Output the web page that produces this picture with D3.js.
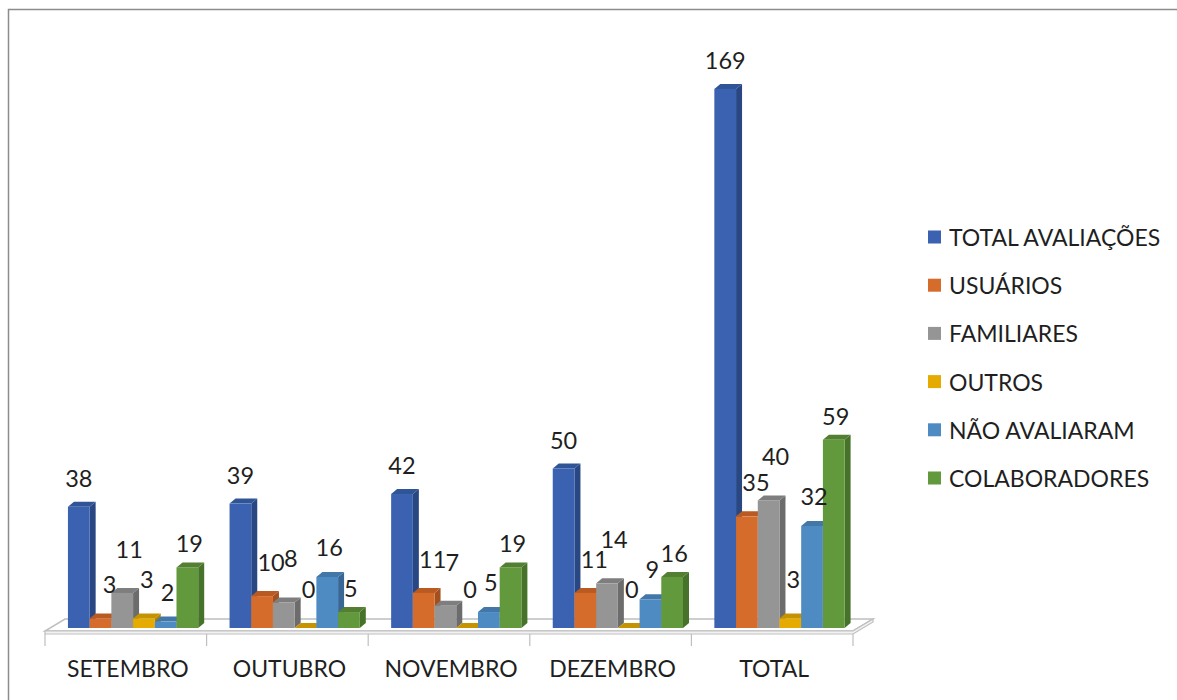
<!DOCTYPE html>
<html>
<head>
<meta charset="utf-8">
<script src="https://cdn.jsdelivr.net/npm/d3@7"></script>
<style>
  html, body { margin: 0; padding: 0; background: #ffffff; }
  svg text { font-family: Lato, "Open Sans", sans-serif; fill: #1f1f1f; }
</style>
</head>
<body>
<svg id="chart" width="1177" height="700"></svg>
<script>
// Monthly evaluation counts
const categories = ["SETEMBRO", "OUTUBRO", "NOVEMBRO", "DEZEMBRO", "TOTAL"];
const seriesNames = ["TOTAL AVALIAÇÕES", "USUÁRIOS", "FAMILIARES", "OUTROS", "NÃO AVALIARAM", "COLABORADORES"];
const totalAvaliacoes = [38, 39, 42, 50, 169];
const usuarios       = [3, 10, 11, 11, 35];
const familiares     = [11, 8, 7, 14, 40];
const outros         = [3, 0, 0, 0, 3];
const naoAvaliaram   = [2, 16, 5, 9, 32];
const colaboradores  = [19, 5, 19, 16, 59];
const seriesValues = [totalAvaliacoes, usuarios, familiares, outros, naoAvaliaram, colaboradores];

// Face colours per series: front, side, top
const palette = [
  { front: "#3a62b0", side: "#284783", top: "#2f5596" },
  { front: "#d66c2b", side: "#a4501d", top: "#b85a22" },
  { front: "#959595", side: "#6c6c6c", top: "#7e7e7e" },
  { front: "#e6ab00", side: "#af8300", top: "#c59300" },
  { front: "#4f8bc3", side: "#386795", top: "#4277a8" },
  { front: "#62993c", side: "#46722a", top: "#537f32" }
];
// Label nudges per series (Excel 3D label placement)
const labelNudge = [[0, -29], [9, -34], [7, -44], [3, -39], [2, -30], [2, -24]];

const svg = d3.select("#chart");

// Chart area frame
svg.append("rect")
  .attr("x", 8.5).attr("y", 9.5)
  .attr("width", 1200).attr("height", 720)
  .attr("fill", "none").attr("stroke", "#8c8c8c").attr("stroke-width", 1.5);

const floorLeft = 45, floorRight = 853, baseY = 628;
const depthX = 6, depthY = 5;      // bar depth projection
const floorDX = 20, floorDY = 12;  // floor depth projection

const x = d3.scaleBand().domain(categories).range([floorLeft, floorRight]).paddingInner(0).paddingOuter(0);
const bw = x.bandwidth();
const xs = d3.scaleBand().domain(d3.range(seriesNames.length))
  .range([bw * 0.142, bw * 0.948]).padding(0);
const y = d3.scaleLinear().domain([0, 180]).range([baseY, baseY - 180 * 3.19]);

// Floor
const fy = baseY + 3;
const floor = svg.append("g");
floor.append("polygon")
  .attr("points", [
    [floorLeft, fy], [floorRight, fy],
    [floorRight + floorDX, fy - floorDY], [floorLeft + floorDX, fy - floorDY]
  ].map(p => p.join(",")).join(" "))
  .attr("fill", "#ffffff").attr("stroke", "#bfbfbf").attr("stroke-width", 1.5);
floor.append("polygon")
  .attr("points", [
    [floorLeft, fy], [floorRight, fy], [floorRight + floorDX, fy - floorDY],
    [floorRight + floorDX, fy - floorDY + 3], [floorRight, fy + 3], [floorLeft, fy + 3]
  ].map(p => p.join(",")).join(" "))
  .attr("fill", "#f2f2f2").attr("stroke", "#bfbfbf").attr("stroke-width", 1.2);

// Category ticks
const tickXs = categories.map(c => x(c)).concat([floorRight]);
svg.append("g").selectAll("line").data(tickXs).join("line")
  .attr("x1", d => d).attr("x2", d => d)
  .attr("y1", fy + 3).attr("y2", fy + 15)
  .attr("stroke", "#bfbfbf").attr("stroke-width", 1.2);

// Bars, drawn left to right so each front face covers the previous side face
const bars = [];
categories.forEach((c, ci) => {
  seriesValues.forEach((vals, si) => {
    bars.push({ c, ci, si, v: vals[ci] });
  });
});

const barG = svg.append("g");
bars.forEach(b => {
  const x0 = x(b.c) + xs(b.si);
  const w = xs.bandwidth();
  const top = y(b.v);
  const col = palette[b.si];
  const g = barG.append("g");
  // side face
  g.append("polygon")
    .attr("points", [[x0 + w, top], [x0 + w + depthX, top - depthY],
      [x0 + w + depthX, baseY - depthY], [x0 + w, baseY]].map(p => p.join(",")).join(" "))
    .attr("fill", col.side);
  // top face
  g.append("polygon")
    .attr("points", [[x0, top], [x0 + depthX, top - depthY],
      [x0 + w + depthX, top - depthY], [x0 + w, top]].map(p => p.join(",")).join(" "))
    .attr("fill", col.top);
  // front face
  g.append("rect")
    .attr("x", x0).attr("y", top)
    .attr("width", w).attr("height", baseY - top)
    .attr("fill", col.front);
});

// Value labels
svg.append("g").selectAll("text").data(bars).join("text")
  .attr("x", b => x(b.c) + xs(b.si) + xs.bandwidth() / 2 + labelNudge[b.si][0])
  .attr("y", b => y(b.v) + labelNudge[b.si][1])
  .attr("text-anchor", "middle")
  .attr("dominant-baseline", "central")
  .attr("font-size", 23.5)
  .text(b => b.v);

// Category labels
svg.append("g").selectAll("text").data(categories).join("text")
  .attr("x", c => x(c) + bw / 2 + 2)
  .attr("y", 668)
  .attr("text-anchor", "middle")
  .attr("dominant-baseline", "central")
  .attr("font-size", 23)
  .text(c => c);

// Legend
const legend = svg.append("g").attr("transform", "translate(928,237)");
const item = legend.selectAll("g").data(seriesNames).join("g")
  .attr("transform", (d, i) => `translate(0,${i * 48.2})`);
item.append("rect")
  .attr("x", 0).attr("y", -6.5).attr("width", 13).attr("height", 13)
  .attr("fill", (d, i) => palette[i].front);
item.append("text")
  .attr("x", 21).attr("y", 0)
  .attr("dominant-baseline", "central")
  .attr("font-size", 23)
  .text(d => d);
</script>
</body>
</html>
